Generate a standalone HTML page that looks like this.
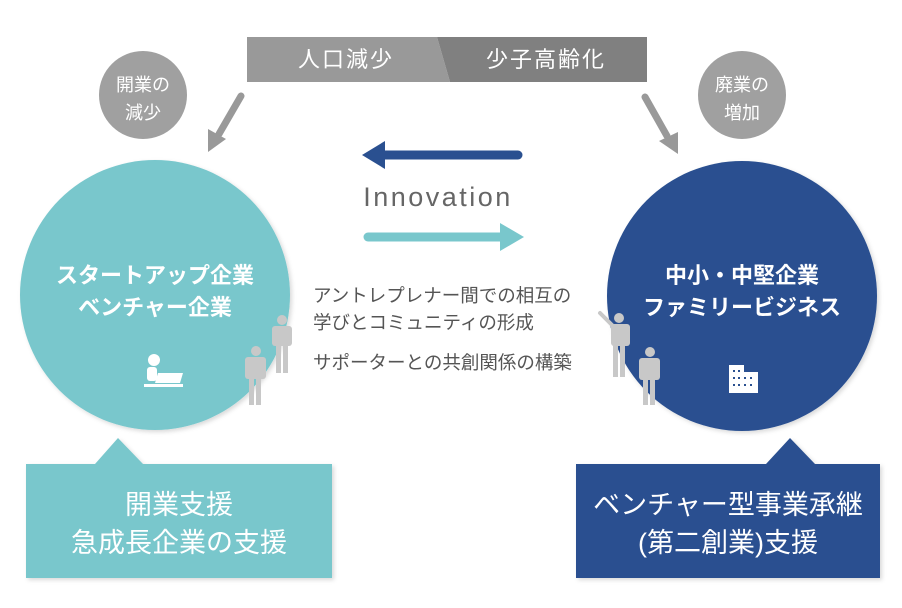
<!DOCTYPE html>
<html><head><meta charset="utf-8"><style>
html,body{margin:0;padding:0;background:#fff;}
svg{display:block;}
text{font-family:"Liberation Sans","Noto Sans CJK JP",sans-serif;}
</style></head><body>
<svg width="902" height="608" viewBox="0 0 902 608" xmlns="http://www.w3.org/2000/svg">
<defs>
<filter id="sh" x="-10%" y="-10%" width="130%" height="130%"><feDropShadow dx="2" dy="2" stdDeviation="2" flood-color="#000" flood-opacity="0.15"/></filter>
</defs>
<!-- banner -->
<polygon points="247,37 437,37 450,82 247,82" fill="#999"/>
<polygon points="437,37 647,37 647,82 450,82" fill="#808080"/>
<text x="346" y="67" fill="#fff" font-size="22" text-anchor="middle" letter-spacing="2">人口減少</text>
<text x="546" y="67" fill="#fff" font-size="22" text-anchor="middle" letter-spacing="2">少子高齢化</text>
<!-- gray circles -->
<circle cx="143" cy="95" r="44" fill="#a0a0a0"/>
<text x="143" y="91" fill="#fff" font-size="18" text-anchor="middle">開業の</text>
<text x="143" y="119" fill="#fff" font-size="18" text-anchor="middle">減少</text>
<circle cx="742" cy="95" r="44" fill="#a0a0a0"/>
<text x="742" y="91" fill="#fff" font-size="18" text-anchor="middle">廃業の</text>
<text x="742" y="119" fill="#fff" font-size="18" text-anchor="middle">増加</text>
<!-- gray arrows -->
<line x1="241" y1="96" x2="219" y2="134" stroke="#999" stroke-width="7" stroke-linecap="round"/>
<polygon points="208,152 208,129 226,139" fill="#999"/>
<line x1="645" y1="97" x2="667" y2="136" stroke="#999" stroke-width="7" stroke-linecap="round"/>
<polygon points="678,154 659,141 678,132" fill="#999"/>
<!-- innovation arrows -->
<line x1="380" y1="155" x2="518" y2="155" stroke="#2a5090" stroke-width="9" stroke-linecap="round"/>
<polygon points="362,155 385,141 385,169" fill="#2a5090"/>
<text x="438" y="206" fill="#666" font-size="27" text-anchor="middle" letter-spacing="2.5">Innovation</text>
<line x1="368" y1="237" x2="505" y2="237" stroke="#79c7cc" stroke-width="9" stroke-linecap="round"/>
<polygon points="524,237 500,223 500,251" fill="#79c7cc"/>
<!-- circles -->
<circle cx="155" cy="295" r="135" fill="#79c7cc" filter="url(#sh)"/>
<text x="155" y="283" fill="#fff" font-size="22" text-anchor="middle" font-weight="bold">スタートアップ企業</text>
<text x="155" y="315" fill="#fff" font-size="22" text-anchor="middle" font-weight="bold">ベンチャー企業</text>
<g fill="#fff"><circle cx="154" cy="360" r="6"/><rect x="147" y="367" width="10" height="14" rx="3"/><polygon points="158,373 183,373 180,383 155,383"/><rect x="144" y="384" width="39" height="3"/></g>
<circle cx="742" cy="296" r="135" fill="#2a5090" filter="url(#sh)"/>
<text x="742" y="283" fill="#fff" font-size="22" text-anchor="middle" font-weight="bold">中小・中堅企業</text>
<text x="742" y="315" fill="#fff" font-size="22" text-anchor="middle" font-weight="bold">ファミリービジネス</text>
<g fill="#fff"><rect x="729" y="365" width="15" height="28"/><rect x="741" y="372" width="17" height="21"/></g>
<g fill="#2a5090"><rect x="733" y="370" width="2" height="2"/><rect x="738" y="370" width="2" height="2"/><rect x="733" y="377" width="2" height="2"/><rect x="738" y="377" width="2" height="2"/><rect x="744" y="377" width="2" height="2"/><rect x="750" y="377" width="2" height="2"/><rect x="733" y="384" width="2" height="2"/><rect x="738" y="384" width="2" height="2"/><rect x="744" y="384" width="2" height="2"/><rect x="750" y="384" width="2" height="2"/></g>
<!-- people -->
<g fill="#c8c8c8">
<circle cx="282" cy="320" r="5"/><rect x="272" y="326" width="20" height="20" rx="3"/><rect x="276" y="340" width="5" height="33"/><rect x="283" y="340" width="5" height="33"/>
<circle cx="256" cy="351" r="5"/><rect x="245" y="357" width="21" height="22" rx="3"/><rect x="249" y="372" width="5" height="33"/><rect x="256" y="372" width="5" height="33"/>
<circle cx="619" cy="318" r="5"/><rect x="611" y="324" width="19" height="22" rx="3"/><line x1="614" y1="327" x2="600" y2="313" stroke="#c8c8c8" stroke-width="4" stroke-linecap="round"/><rect x="613" y="340" width="5" height="37"/><rect x="620" y="340" width="5" height="37"/>
<circle cx="650" cy="352" r="5"/><rect x="639" y="358" width="21" height="22" rx="3"/><rect x="643" y="372" width="5" height="33"/><rect x="650" y="372" width="5" height="33"/>
</g>
<!-- middle text -->
<g fill="#555" font-size="18.5">
<text x="313" y="302">アントレプレナー間での相互の</text>
<text x="313" y="329">学びとコミュニティの形成</text>
<text x="313" y="369">サポーターとの共創関係の構築</text>
</g>
<!-- bottom boxes -->
<g filter="url(#sh)">
<polygon points="26,464 95,464 118,438 143,464 332,464 332,578 26,578" fill="#79c7cc"/>
<polygon points="576,464 766,464 790,438 815,464 880,464 880,578 576,578" fill="#2a5090"/>
</g>
<g fill="#fff" font-size="27" text-anchor="middle">
<text x="179" y="514">開業支援</text>
<text x="179" y="552">急成長企業の支援</text>
<text x="728" y="514">ベンチャー型事業承継</text>
<text x="728" y="552">(第二創業)支援</text>
</g>
</svg>
</body></html>
